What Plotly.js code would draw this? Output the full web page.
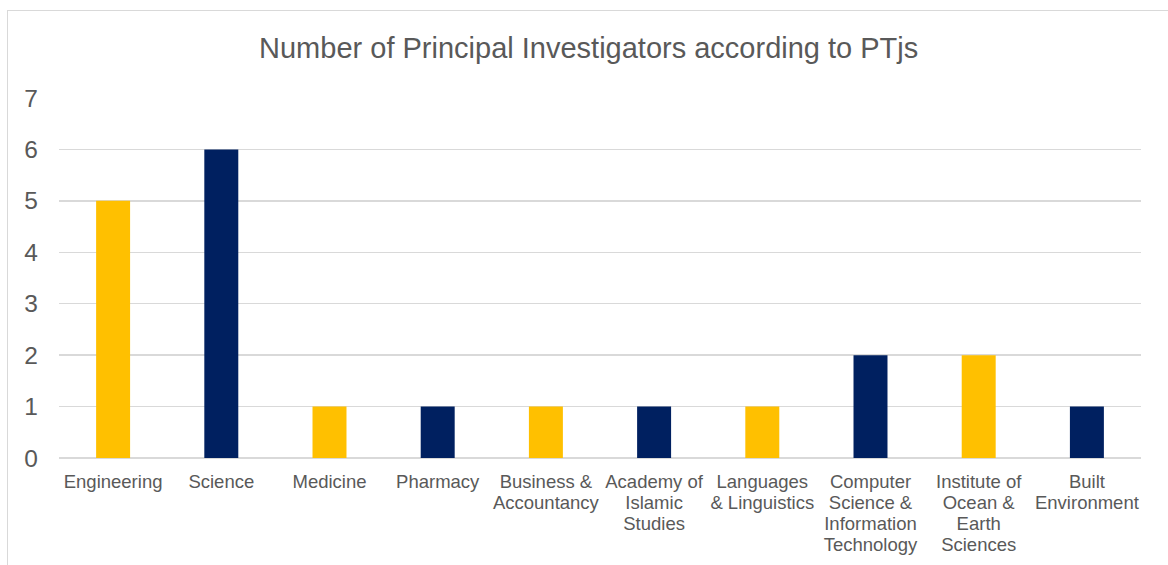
<!DOCTYPE html>
<html>
<head>
<meta charset="utf-8">
<script src="https://cdn.plot.ly/plotly-3.0.1.min.js"></script>
<style>
  html, body { margin: 0; padding: 0; background: #fff; overflow: hidden; }
  #wrap { position: relative; width: 1168px; height: 565px; }
  #chart { position: absolute; left: 0; top: 0; width: 1168px; height: 565px; }
  #frame { position: absolute; left: 7px; top: 10px; width: 1200px; height: 600px;
           border: 1.5px solid #d9d9d9; pointer-events: none; box-sizing: border-box; }
</style>
</head>
<body>
<div id="wrap">
  <div id="chart"></div>
  <div id="frame"></div>
</div>
<script>
const categories = [
  "Engineering", "Science", "Medicine", "Pharmacy",
  "Business &<br>Accountancy", "Academy of<br>Islamic<br>Studies",
  "Languages<br>& Linguistics", "Computer<br>Science &<br>Information<br>Technology",
  "Institute of<br>Ocean &<br>Earth<br>Sciences", "Built<br>Environment"
];
const values = [5, 6, 1, 1, 1, 1, 1, 2, 2, 1];
const barColors = ["#FFC000", "#002060", "#FFC000", "#002060", "#FFC000",
                   "#002060", "#FFC000", "#002060", "#FFC000", "#002060"];
const yTicks = [0, 1, 2, 3, 4, 5, 6, 7];

const trace = {
  type: "bar",
  x: categories,
  y: values,
  marker: { color: barColors },
  hoverinfo: "x+y"
};

const layout = {
  width: 1168,
  height: 565,
  margin: { l: 59, r: 27, t: 98, b: 106.5 },
  paper_bgcolor: "#ffffff",
  plot_bgcolor: "#ffffff",
  bargap: 0.686,
  showlegend: false,
  font: { family: "Liberation Sans, Arial, sans-serif", color: "#595959" },
  title: {
    text: "Number of Principal Investigators according to PTjs",
    font: { size: 29, color: "#595959", family: "Liberation Sans, Arial, sans-serif" },
    x: 0.504, xanchor: "center",
    y: 0.915, yanchor: "middle", yref: "container"
  },
  xaxis: {
    type: "category",
    tickfont: { size: 18.5, color: "#595959" },
    showgrid: false,
    showline: false,
    ticks: "",
    tickangle: 0,
    ticklabelstandoff: 10
  },
  yaxis: {
    range: [0, 7],
    tickvals: yTicks,
    ticktext: yTicks.map(String),
    tickfont: { size: 24.5, color: "#595959" },
    showgrid: true,
    gridcolor: "#d9d9d9",
    gridwidth: 1.5,
    zeroline: true,
    zerolinecolor: "#d9d9d9",
    zerolinewidth: 1.5,
    showline: false,
    ticks: "",
    ticklabelstandoff: 20
  }
};

Plotly.newPlot("chart", [trace], layout, { displayModeBar: false, staticPlot: true }).then(function (gd) {
  // tighten multi-line category label spacing to match the reference (~1.15em)
  const factor = 1.15 / 1.3;
  gd.querySelectorAll(".xtick text tspan.line").forEach(function (t) {
    const dy = t.getAttribute("dy");
    if (dy && dy.endsWith("em")) {
      const v = parseFloat(dy);
      t.setAttribute("dy", (v * factor) + "em");
    }
  });
});
</script>
</body>
</html>
